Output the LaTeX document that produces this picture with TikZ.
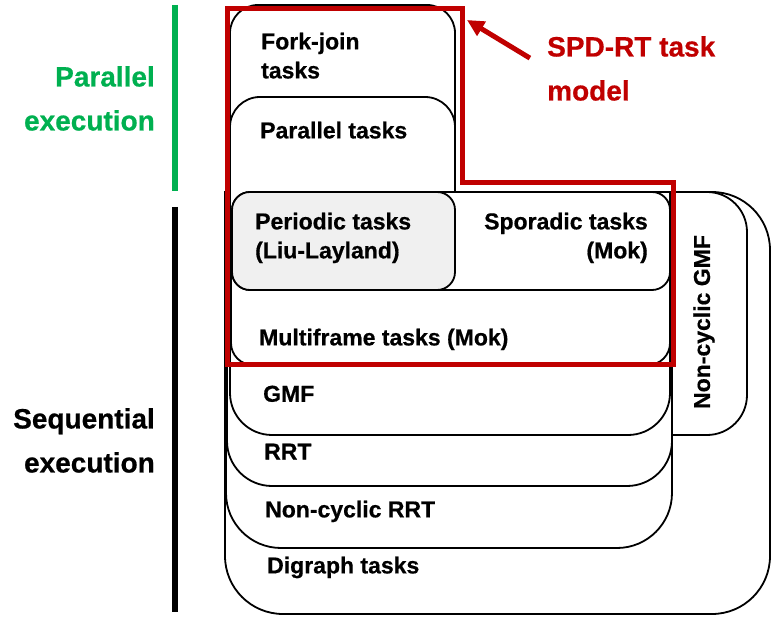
\documentclass[tikz,border=0pt]{standalone}
\usepackage{fontspec}
\setmainfont{Liberation Sans}[BoldFeatures={FakeBold=0.6}]
\usetikzlibrary{arrows.meta, positioning}
\definecolor{spdred}{RGB}{192,0,0}
\definecolor{pargreen}{RGB}{0,176,80}
\tikzset{
  tbox/.style={draw=black, line width=1.8pt, fill=white},
  tlabel/.style={font=\fontsize{23}{29}\selectfont\bfseries, inner sep=0pt, align=left, anchor=north west},
  sidelabel/.style={font=\fontsize{28}{44}\selectfont\bfseries, inner sep=0pt, align=right, anchor=north east},
}

\begin{document}
\begin{tikzpicture}[x=1pt, y=-1pt]
\useasboundingbox (0,0) rectangle (771,617);

% sequential models, largest first
\draw[tbox] (500,192) [rounded corners=58] -- (770,192) -- (770,614) -- (225,614) [sharp corners] -- (225,192) -- cycle;
\draw[tbox] (500,192) [rounded corners=40] -- (747,192) -- (747,435) -- (230,435) [sharp corners] -- (230,192) -- cycle;
\draw[tbox] (500,192) -- (672,192) [rounded corners=55] -- (672,548) -- (226,548) [sharp corners] -- (226,192) -- cycle;
\draw[tbox] (500,192) -- (672,192) [rounded corners=45] -- (672,486) -- (227,486) [sharp corners] -- (227,192) -- cycle;
\draw[tbox] (500,192) -- (670,192) [rounded corners=42] -- (670,435) -- (230,435) [sharp corners] -- (230,192) -- cycle;
\draw[tbox] (500,192) -- (670,192) [rounded corners=22] -- (670,365) -- (231,365) [sharp corners] -- (231,192) -- cycle;

% parallel models
\draw[tbox] (230,250) [rounded corners=28] -- (230,5) -- (455,5) [sharp corners] -- (455,250) -- cycle;
\draw[tbox] (230,250) [rounded corners=30] -- (230,97) -- (455,97) [sharp corners] -- (455,250) -- cycle;

% sporadic / periodic
\draw[tbox, rounded corners=18] (232,192) rectangle (670,290);
\draw[tbox, fill=black!6, rounded corners=18] (232,192) rectangle (455,290);

% SPD-RT region
\draw[spdred, line width=5pt] (227,9) -- (462,9) -- (462,183) -- (673,183) -- (673,365) -- (227,365) -- cycle;
\coordinate (spdcorner) at (467,20);

% execution bars
\draw[pargreen, line width=5.5pt] (175,5) -- (175,191);
\draw[black, line width=5.5pt] (175,207) -- (175,612);

% labels
\node[tlabel] (forkjoin) at (261,32.5) {Fork-join\\tasks};
\node[tlabel] (parallel) at (260,121.5) {Parallel tasks};
\node[tlabel] (periodic) at (255,212.5) {Periodic tasks\\(Liu-Layland)};
\node[tlabel, align=right, anchor=north east] (sporadic) at (648,212.5) {Sporadic tasks\\(Mok)};
\node[tlabel] (multiframe) at (259,328.5) {Multiframe tasks (Mok)};
\node[tlabel] (gmf) at (263,385.5) {GMF};
\node[tlabel] (rrt) at (264,443.5) {RRT};
\node[tlabel] (ncrrt) at (265,500.5) {Non-cyclic RRT};
\node[tlabel] (digraph) at (267,556.5) {Digraph tasks};
\node[tlabel, anchor=center, rotate=90] (ncgmf) at (704,322) {Non-cyclic GMF};

\node[sidelabel, text=pargreen] (parexec) at (155,66) {Parallel\\execution};
\node[sidelabel] (seqexec) at (155,408) {Sequential\\execution};
\node[sidelabel, align=left, anchor=north west, text=spdred] (spdlbl) at (547,36) {SPD-RT task\\model};

\draw[spdred, line width=5pt, -{Triangle[length=17pt,width=16pt]}, shorten <=20pt] (spdlbl.west) -- (spdcorner);
\end{tikzpicture}
\end{document}
